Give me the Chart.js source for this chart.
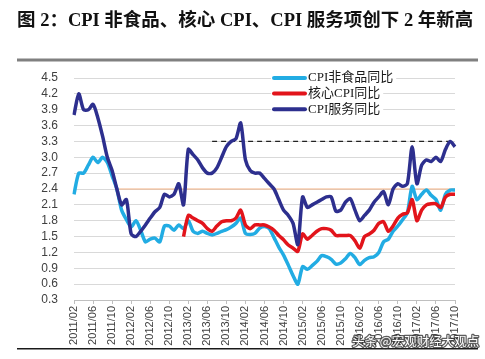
<!DOCTYPE html>
<html lang="zh-CN">
<head>
<meta charset="utf-8">
<title>CPI 非食品、核心 CPI、CPI 服务项</title>
<script src="https://cdn.jsdelivr.net/npm/chart.js@4.4.0/dist/chart.umd.min.js"></script>
<style>
    html, body { margin: 0; padding: 0; background: #fff; }
    #wrap { width: 485px; height: 359px; }
</style>
</head>
<body>
<div id="wrap"><canvas id="cpiChart" width="485" height="359"></canvas></div>
<script>
const titleText = '图 2：CPI 非食品、核心 CPI、CPI 服务项创下 2 年新高';
const watermarkText = '头条 @宏观财经大观点';

const months = [
    '2011/02', '2011/03', '2011/04', '2011/05', '2011/06', '2011/07', '2011/08', '2011/09', '2011/10', '2011/11', '2011/12',
    '2012/01', '2012/02', '2012/03', '2012/04', '2012/05', '2012/06', '2012/07', '2012/08', '2012/09', '2012/10', '2012/11', '2012/12',
    '2013/01', '2013/02', '2013/03', '2013/04', '2013/05', '2013/06', '2013/07', '2013/08', '2013/09', '2013/10', '2013/11', '2013/12',
    '2014/01', '2014/02', '2014/03', '2014/04', '2014/05', '2014/06', '2014/07', '2014/08', '2014/09', '2014/10', '2014/11', '2014/12',
    '2015/01', '2015/02', '2015/03', '2015/04', '2015/05', '2015/06', '2015/07', '2015/08', '2015/09', '2015/10', '2015/11', '2015/12',
    '2016/01', '2016/02', '2016/03', '2016/04', '2016/05', '2016/06', '2016/07', '2016/08', '2016/09', '2016/10', '2016/11', '2016/12',
    '2017/01', '2017/02', '2017/03', '2017/04', '2017/05', '2017/06', '2017/07', '2017/08', '2017/09', '2017/10',
];

// CPI非食品同比
const nonFoodCpi = [
    2.3, 2.7, 2.7, 2.85, 3.0, 2.9, 3.0, 2.9, 2.65, 2.4, 2.0,
    1.82, 1.68, 1.8, 1.62, 1.4, 1.45, 1.47, 1.4, 1.7, 1.7, 1.62, 1.72,
    1.65, 1.8, 1.6, 1.56, 1.6, 1.56, 1.53, 1.56, 1.6, 1.63, 1.68, 1.75,
    1.85, 1.56, 1.54, 1.56, 1.66, 1.69, 1.65, 1.48, 1.3, 1.15, 0.96, 0.76,
    0.6, 0.93, 0.88, 0.95, 1.03, 1.14, 1.12, 1.07, 0.98, 1.0, 1.08, 1.18,
    1.1, 0.97, 1.05, 1.1, 1.12, 1.2, 1.4, 1.45, 1.6, 1.7, 1.82, 1.95,
    2.45, 2.2, 2.3, 2.38, 2.28, 2.2, 2.0, 2.3, 2.38, 2.38,
];

// 核心CPI同比 (starts 2013/01)
const coreCpi = [
    null, null, null, null, null, null, null, null, null, null, null,
    null, null, null, null, null, null, null, null, null, null, null, null,
    1.5, 1.9, 1.85, 1.8, 1.75, 1.65, 1.6, 1.7, 1.78, 1.8, 1.8, 1.85,
    2.0, 1.72, 1.65, 1.72, 1.72, 1.72, 1.68, 1.62, 1.52, 1.44, 1.34, 1.28,
    1.22, 1.55, 1.45, 1.52, 1.6, 1.65, 1.65, 1.62, 1.52, 1.52, 1.52, 1.52,
    1.42, 1.28, 1.5, 1.55, 1.62, 1.75, 1.78, 1.6, 1.7, 1.85, 1.92, 1.95,
    2.2, 1.8, 2.0, 2.1, 2.12, 2.12, 2.05, 2.25, 2.3, 2.3,
];

// CPI服务同比
const servicesCpi = [
    3.8, 4.2, 3.9, 3.9, 4.0, 3.75, 3.4, 3.0, 2.75, 2.4, 2.1,
    2.2, 1.55, 1.5, 1.6, 1.72, 1.85, 1.97, 2.05, 2.3, 2.25, 2.3, 2.5,
    2.1, 3.15, 3.05, 2.95, 2.8, 2.7, 2.7, 2.8, 3.0, 3.2, 3.3, 3.35,
    3.65, 2.95, 2.75, 2.7, 2.7, 2.6, 2.5, 2.4, 2.2, 2.0, 1.9, 1.75,
    1.35, 2.25, 2.05, 2.1, 2.15, 2.2, 2.25, 2.25, 1.98, 2.0, 2.15, 2.22,
    2.0, 1.8, 1.9, 2.0, 2.15, 2.25, 2.35, 2.1, 2.4, 2.5, 2.45, 2.5,
    3.2, 2.5, 2.85, 2.95, 2.92, 3.0, 2.92, 3.15, 3.3, 3.2,
];

const yTicks = [0.3, 0.6, 0.9, 1.2, 1.5, 1.8, 2.1, 2.4, 2.7, 3.0, 3.3, 3.6, 3.9, 4.2, 4.5];

// reference lines: level and first month
const orangeLevel = 2.4;
const orangeFrom = '2011/11';
const dashLevel = 3.3;
const dashFrom = '2013/07';

const seriesStyles = [
    { label: 'CPI非食品同比', data: nonFoodCpi, color: '#22ACE3', order: 3 },
    { label: '核心CPI同比', data: coreCpi, color: '#E2141B', order: 2 },
    { label: 'CPI服务同比', data: servicesCpi, color: '#2D2F8E', order: 1 },
];

function levelLine(level, fromMonth) {
    const start = months.indexOf(fromMonth);
    return months.map((month, index) => (index >= start ? level : null));
}

const pageDecor = {
    id: 'pageDecor',
    beforeDraw(chart) {
        const ctx = chart.ctx;
        ctx.save();
        ctx.fillStyle = '#fff';
        ctx.fillRect(0, 0, chart.width, chart.height);

        ctx.fillStyle = '#111';
        ctx.font = 'bold 18.5px "Liberation Serif", "Noto Sans CJK SC", serif';
        ctx.textBaseline = 'middle';
        ctx.fillText(titleText, 17, 21);

        ctx.fillStyle = '#808080';
        ctx.fillRect(17, 58.5, 461, 3);
        ctx.fillStyle = '#1a1a1a';
        ctx.fillRect(17, 348, 461, 1.5);
        ctx.restore();
    },
    afterDraw(chart) {
        const ctx = chart.ctx;
        ctx.save();

        // legend inside plot, top right
        ctx.font = '13px "Liberation Serif", "Noto Sans CJK SC", serif';
        ctx.textBaseline = 'middle';
        seriesStyles.forEach((series, index) => {
            const y = 78 + index * 15.6;
            const textWidth = ctx.measureText(series.label).width;
            ctx.fillStyle = '#fff';
            ctx.fillRect(271, y - 7, 308 - 271 + textWidth + 3, 14);
            ctx.strokeStyle = series.color;
            ctx.lineWidth = 4;
            ctx.lineCap = 'round';
            ctx.beginPath();
            ctx.moveTo(274, y);
            ctx.lineTo(305, y);
            ctx.stroke();
            ctx.fillStyle = '#1a1a1a';
            ctx.fillText(series.label, 308, y);
        });

        // watermark
        ctx.font = '12.5px "Noto Sans CJK SC", sans-serif';
        ctx.textBaseline = 'middle';
        ctx.lineJoin = 'round';
        ctx.strokeStyle = 'rgba(40, 40, 40, 0.75)';
        ctx.lineWidth = 2.5;
        ctx.strokeText(watermarkText, 352, 341);
        ctx.fillStyle = '#fff';
        ctx.fillText(watermarkText, 352, 341);
        ctx.restore();
    },
};

const canvas = document.getElementById('cpiChart');

const chart = new Chart(canvas.getContext('2d'), {
    type: 'line',
    data: {
        labels: months,
        datasets: [
            ...seriesStyles.map((series) => ({
                label: series.label,
                data: series.data,
                borderColor: series.color,
                backgroundColor: series.color,
                borderWidth: 3.5,
                pointRadius: 0,
                tension: 0.25,
                order: series.order,
            })),
            {
                label: 'level-2.4',
                data: levelLine(orangeLevel, orangeFrom),
                borderColor: '#F4B183',
                borderWidth: 1.2,
                pointRadius: 0,
                order: 5,
            },
            {
                label: 'level-3.3',
                data: levelLine(dashLevel, dashFrom),
                borderColor: '#222',
                borderWidth: 1.3,
                borderDash: [5, 4],
                pointRadius: 0,
                order: 4,
            },
        ],
    },
    options: {
        responsive: false,
        animation: false,
        devicePixelRatio: 1,
        layout: {
            padding: { top: 78, right: 30, bottom: 0, left: 0 },
        },
        plugins: {
            legend: { display: false },
            tooltip: { enabled: false },
        },
        scales: {
            x: {
                offset: false,
                border: { color: '#bfbfbf' },
                grid: {
                    drawOnChartArea: false,
                    drawTicks: true,
                    tickLength: 4,
                    color: '#bfbfbf',
                },
                ticks: {
                    autoSkip: false,
                    minRotation: 90,
                    maxRotation: 90,
                    padding: 2,
                    color: '#404040',
                    font: { family: '"Liberation Sans", Arial, sans-serif', size: 11 },
                    callback(value, index) {
                        return index % 4 === 0 ? months[index] : null;
                    },
                },
                afterFit(scale) {
                    scale.height = 59;
                },
            },
            y: {
                min: yTicks[0],
                max: yTicks[yTicks.length - 1],
                border: { display: false },
                grid: {
                    color: '#d9d9d9',
                    drawTicks: false,
                },
                afterBuildTicks(scale) {
                    scale.ticks = yTicks.map((value) => ({ value }));
                },
                ticks: {
                    autoSkip: false,
                    padding: 16,
                    color: '#404040',
                    font: { family: '"Liberation Sans", Arial, sans-serif', size: 12 },
                    callback(value) {
                        return Number(value).toFixed(1);
                    },
                },
                afterFit(scale) {
                    scale.width = 74;
                },
            },
        },
    },
    plugins: [pageDecor],
});
</script>
</body>
</html>
